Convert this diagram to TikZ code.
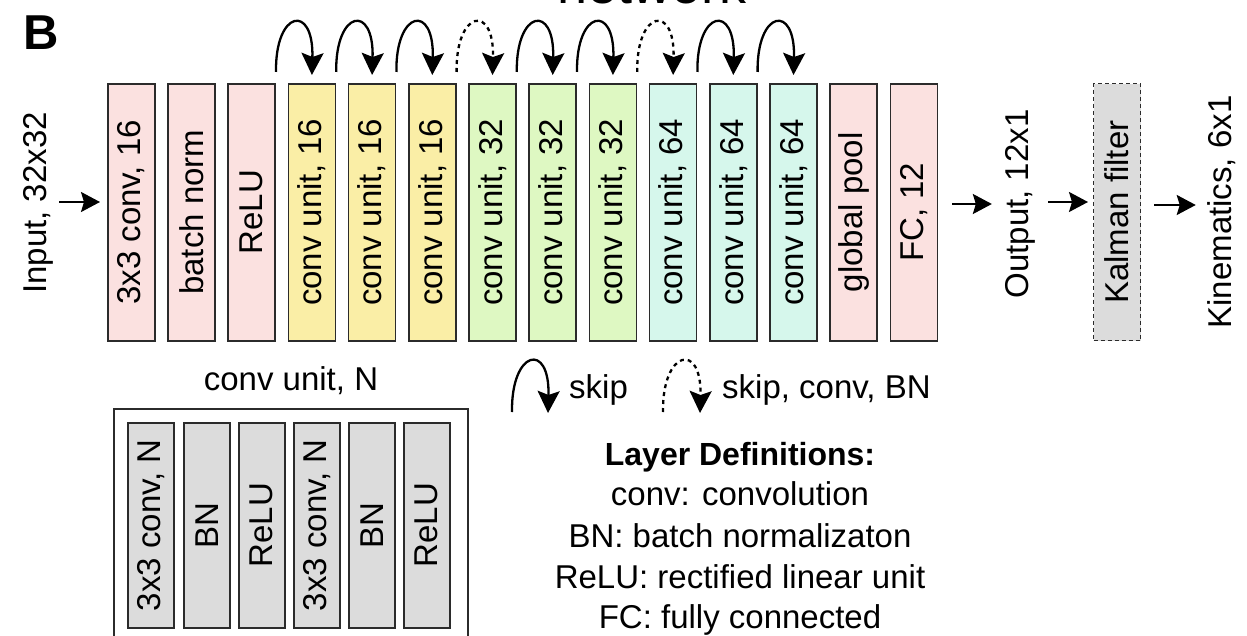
\documentclass[tikz,border=0pt]{standalone}
\usepackage{fontspec}
\setmainfont{Liberation Sans}
\usetikzlibrary{arrows.meta,calc}
\definecolor{cpink}{HTML}{FBE1E0}
\definecolor{cyel}{HTML}{FAEEA6}
\definecolor{cgrn}{HTML}{DEF8C2}
\definecolor{ccyn}{HTML}{D6F7EC}
\definecolor{cgray}{HTML}{DCDCDC}
\definecolor{edgec}{HTML}{2B2B2B}
\begin{document}
\begin{tikzpicture}[x=1pt,y=-1pt,
  every node/.style={font=\fontsize{33}{40}\selectfont, inner sep=0pt},
  layer/.style={draw=edgec, line width=1.6pt, minimum width=47pt, minimum height=257pt, anchor=north west},
  unitbox/.style={draw=edgec, line width=1.5pt, fill=cgray, minimum width=46pt, minimum height=205pt, anchor=north west},
  skiparc/.style={line width=2.3pt, -{Stealth[length=22pt,width=22pt,inset=4pt]}},
  skipdot/.style={skiparc, dash pattern=on 4pt off 4pt},
  flow/.style={line width=2pt, -{Stealth[length=19pt,width=20pt,inset=3pt]}},
  vtext/.style={rotate=90}]
\useasboundingbox (0,0) rectangle (1247,636);
\fill[white] (0,0) rectangle (1247,636);
\begin{scope}
\clip (0,0) rectangle (1247,636);
\node[anchor=base, font=\fontsize{54}{60}\selectfont] (title) at (652,4) {network};
\node[draw=edgec, line width=1.5pt, minimum width=354pt, minimum height=260pt, anchor=north west] (frame) at (113,408) {};
\end{scope}
\node[anchor=base west, font=\bfseries\fontsize{49}{50}\selectfont] (panel) at (23,50) {B};
% main layers
\foreach \i/\c/\t in {0/cpink/{3x3 conv, 16},1/cpink/{batch norm},2/cpink/{ReLU},
  3/cyel/{conv unit, 16},4/cyel/{conv unit, 16},5/cyel/{conv unit, 16},
  6/cgrn/{conv unit, 32},7/cgrn/{conv unit, 32},8/cgrn/{conv unit, 32},
  9/ccyn/{conv unit, 64},10/ccyn/{conv unit, 64},11/ccyn/{conv unit, 64},
  12/cpink/{global pool},13/cpink/{FC, 12}}{
  \pgfmathsetmacro\xx{107+60.2*\i}
  \node[layer, fill=\c] (b\i) at (\xx,83) {};
  \node[vtext] (t\i) at (b\i.center) {\t};
}
% skip arcs
\foreach \t in {3,4,5,7,8,10,11}{
  \pgfmathtruncatemacro\s{\t-1}
  \draw[skiparc] ([yshift=11pt]b\s.north east) .. controls +(-1,-62) and +(2,-72) .. ([yshift=8pt]b\t.north);
}
\foreach \t in {6,9}{
  \pgfmathtruncatemacro\s{\t-1}
  \draw[skipdot] ([yshift=11pt]b\s.north east) .. controls +(-1,-62) and +(2,-72) .. ([yshift=8pt]b\t.north);
}
% input / output chain (rotated nodes: south = page right, north = page left)
\node[vtext] (inp) at (38,203) {Input, 32x32};
\node[vtext] (outp) at (1020,204) {Output, 12x1};
\node[layer, fill=cgray, dash pattern=on 4pt off 3pt, line width=1.3pt] (kf) at (1093,83) {};
\node[vtext] (kft) at (kf.center) {Kalman filter};
\node[vtext] (kin) at (1222,212) {Kinematics, 6x1};
\draw[flow] ([xshift=6pt]inp.south |- 0,202) -- ([xshift=-7pt]b0.west |- 0,202);
\draw[flow] ([xshift=14pt]b13.east |- 0,204) -- ([xshift=-13pt]outp.north |- 0,204);
\draw[flow] ([xshift=13pt]outp.south |- 0,202) -- ([xshift=-5pt]kf.west |- 0,202);
\draw[flow] ([xshift=13pt]kf.east |- 0,205) -- ([xshift=-12pt]kin.north |- 0,205);
% conv unit detail
\node[anchor=base] (cuN) at (291,390) {conv unit, N};
\foreach \i/\x/\t in {0/127/{3x3 conv, N},1/183/{BN},2/238/{ReLU},3/293/{3x3 conv, N},4/348/{BN},5/403/{ReLU}}{
  \node[unitbox] (u\i) at (\x,422) {};
  \node[vtext] (ut\i) at (u\i.center) {\t};
}
% legend
\coordinate (ls1) at (512,412); \coordinate (le1) at (548,413);
\coordinate (ls2) at (663,412); \coordinate (le2) at (700,413);
\draw[skiparc] (ls1) .. controls +(-1,-62) and +(2,-72) .. (le1);
\draw[skipdot] (ls2) .. controls +(-1,-62) and +(2,-72) .. (le2);
\node[anchor=base west] (lg1) at (569,398) {skip};
\node[anchor=base west] (lg2) at (722,398) {skip, conv, BN};
% definitions
\node[anchor=base, font=\bfseries\fontsize{32}{40}\selectfont] (d0) at (740,465) {Layer Definitions:};
\node[anchor=base] (d1) at (740,505) {conv: convolution};
\node[anchor=base] (d2) at (740,547) {BN: batch normalizaton};
\node[anchor=base] (d3) at (740,588) {ReLU: rectified linear unit};
\node[anchor=base] (d4) at (740,628) {FC: fully connected};
\end{tikzpicture}
\end{document}
